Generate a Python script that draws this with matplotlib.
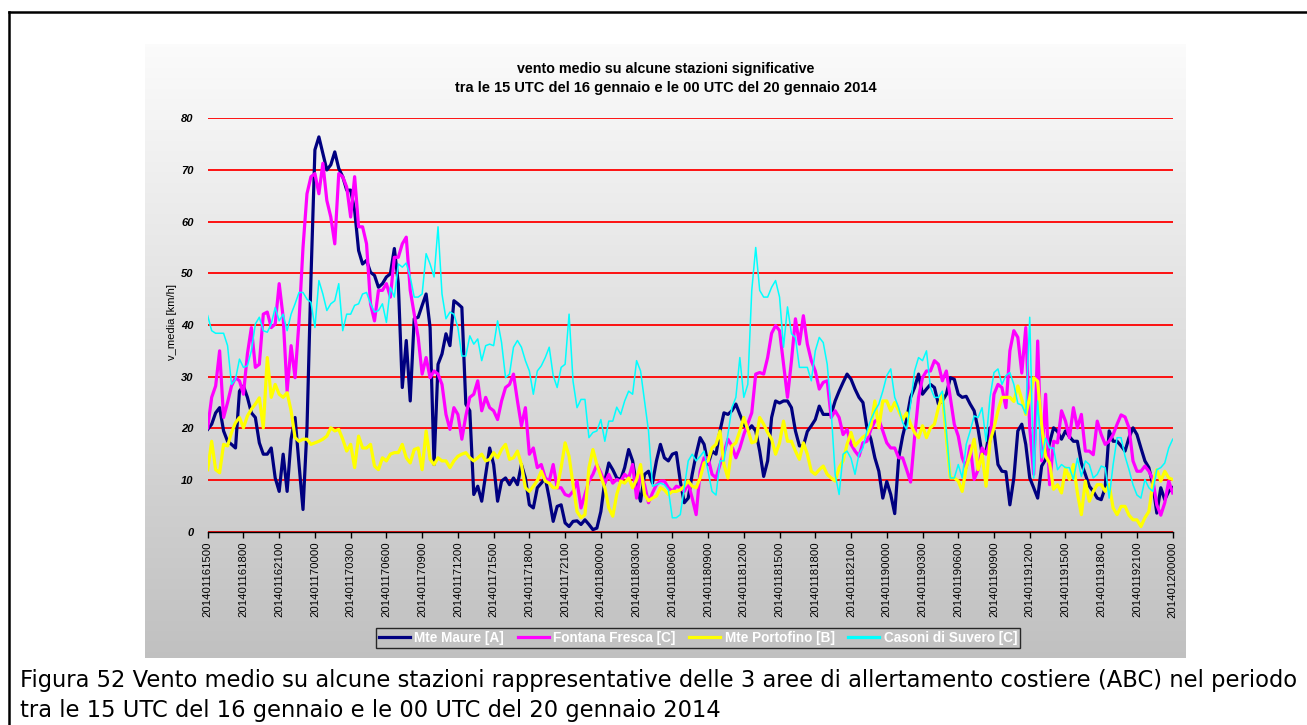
import numpy as np
import matplotlib
matplotlib.use("Agg")
import matplotlib.pyplot as plt
from matplotlib.lines import Line2D

# ---- data: mean wind speed [km/h], one sample every 20 minutes
# from 16/01/2014 15 UTC to 20/01/2014 00 UTC
STEP_H = 1.0 / 3.0

mte_maure = [
    19.8, 20.8, 23.0, 24.0, 19.5, 17.5, 16.9, 16.2, 27.2, 28.2, 26.0, 23.0, 22.1, 17.2, 15.0, 15.0, 16.2, 10.4, 7.8, 15.0,
    7.8, 17.9, 22.1, 13.0, 4.3, 20.0, 49.0, 73.9, 76.4, 73.2, 70.0, 71.0, 73.5, 70.3, 68.7, 66.1, 66.1, 62.2, 54.4, 51.8,
    52.5, 50.2, 49.6, 47.3, 48.0, 49.3, 49.9, 54.8, 48.0, 27.9, 37.0, 25.3, 41.2, 41.5, 43.8, 46.0, 39.5, 13.0, 32.4, 34.4,
    38.3, 36.0, 44.7, 44.1, 43.4, 24.7, 23.4, 7.2, 8.8, 5.9, 11.1, 16.2, 13.0, 5.9, 9.8, 10.4, 9.1, 10.4, 9.1, 13.0,
    10.4, 5.2, 4.6, 8.5, 9.4, 10.4, 6.5, 2.0, 4.9, 5.2, 1.7, 1.0, 2.0, 2.1, 1.4, 2.3, 1.4, 0.4, 0.7, 3.9,
    9.8, 13.3, 12.0, 10.4, 10.1, 12.4, 15.9, 13.7, 8.8, 5.9, 11.1, 11.7, 9.4, 13.7, 16.9, 14.3, 13.7, 15.0, 15.3, 9.8, 5.6,
    6.5, 11.1, 15.0, 18.2, 16.9, 13.0, 15.6, 15.0, 19.5, 23.0, 22.7, 23.4, 24.7, 22.7, 20.8, 19.6, 20.5, 19.5, 15.6, 10.7,
    13.7, 22.1, 25.3, 24.9, 25.3, 25.3, 24.0, 19.5, 16.6, 16.6, 19.4, 20.5, 21.7, 24.3, 22.7, 22.7, 22.7, 25.3, 27.2, 28.9,
    30.5, 29.5, 27.6, 26.0, 25.0, 20.1, 17.9, 14.3, 11.7, 6.5, 9.7, 7.2, 3.5, 14.3, 18.5, 21.7, 26.0, 27.9, 30.5, 26.6,
    27.6, 28.5, 27.9, 24.7, 25.3, 26.6, 29.8, 29.5, 26.6, 26.0, 26.2, 24.7, 23.4, 19.8, 15.0, 15.6, 20.1, 19.5, 13.0, 11.7,
    11.6, 5.2, 10.4, 19.5, 20.8, 16.9, 10.4, 8.5, 6.5, 12.7, 14.0, 17.2, 20.1, 19.4, 17.9, 19.5, 18.4, 17.5, 17.5, 13.3,
    11.1, 8.8, 7.8, 6.5, 6.2, 8.5, 19.5, 17.5, 17.5, 16.6, 15.6, 18.2, 20.1, 18.8, 16.2, 13.7, 12.4, 9.1, 3.6, 8.5,
    6.2, 7.8, 8.5,
]

fontana_fresca = [
    20.1, 26.0, 28.2, 35.0, 22.1, 25.0, 28.2, 29.8, 29.2, 26.6, 34.4, 39.5, 31.8, 32.4, 42.1, 42.5, 39.5, 40.2, 48.0, 41.5,
    27.2, 36.0, 29.8, 40.8, 55.0, 65.4, 68.7, 69.3, 65.4, 71.3, 64.1, 60.9, 55.7, 69.3, 68.7, 66.7, 60.9, 68.7, 59.0, 59.0,
    55.7, 44.1, 40.8, 46.7, 46.7, 48.0, 45.4, 53.1, 53.1, 55.7, 57.0, 46.7, 42.1, 37.6, 30.5, 33.7, 29.8, 31.1, 30.5, 28.5,
    22.7, 19.8, 24.0, 22.7, 17.9, 22.4, 26.0, 26.6, 29.2, 23.4, 26.0, 24.0, 23.4, 21.7, 25.3, 27.9, 28.5, 30.5, 25.3, 20.5,
    24.0, 15.0, 16.2, 12.4, 13.0, 10.4, 9.8, 13.0, 8.5, 8.5, 7.2, 6.9, 7.8, 9.8, 4.6, 7.2, 9.8, 11.1, 13.0, 11.4,
    9.4, 11.1, 9.4, 10.1, 9.8, 11.1, 10.4, 13.0, 6.5, 11.1, 9.1, 5.6, 7.5, 9.1, 9.8, 9.8, 8.5, 7.8, 8.8, 8.5, 7.8,
    9.4, 6.5, 3.3, 11.7, 14.3, 14.3, 11.1, 10.4, 13.0, 15.3, 17.9, 16.6, 14.3, 16.2, 18.8, 20.9, 23.0, 30.5, 30.8, 30.5,
    33.7, 38.4, 39.9, 38.9, 32.4, 26.0, 33.1, 41.2, 36.3, 41.8, 36.3, 33.1, 31.1, 27.6, 28.9, 29.2, 22.1, 23.4, 22.1, 18.8,
    19.8, 16.9, 15.6, 14.6, 17.2, 17.5, 19.8, 21.4, 21.7, 19.5, 17.2, 16.2, 16.2, 14.3, 14.3, 12.0, 9.6, 18.2, 26.0, 29.8,
    31.1, 31.1, 33.1, 32.4, 29.2, 31.1, 26.0, 20.8, 18.5, 14.3, 12.4, 16.6, 10.1, 12.0, 16.2, 15.0, 17.5, 26.6, 28.5, 27.9,
    24.0, 35.0, 38.9, 37.6, 30.7, 39.5, 20.1, 11.1, 36.9, 13.7, 26.6, 9.1, 17.5, 17.2, 23.4, 21.4, 18.2, 24.0, 20.1, 22.7,
    15.6, 15.6, 14.9, 21.4, 18.8, 16.9, 17.5, 18.8, 20.8, 22.6, 22.2, 20.1, 13.7, 11.7, 11.7, 12.7, 11.7, 10.1, 5.2, 3.2,
    5.6, 9.8, 7.5,
]

mte_portofino = [
    12.0, 17.5, 12.0, 11.4, 16.9, 16.6, 19.2, 21.1, 22.1, 20.1, 22.4, 23.7, 24.7, 25.9, 20.1, 33.7, 26.0, 28.5, 26.6, 26.0,
    26.9, 23.4, 18.2, 17.5, 17.9, 17.9, 16.9, 17.2, 17.5, 17.9, 18.5, 20.1, 19.5, 19.8, 17.9, 15.6, 16.9, 12.4, 18.5, 16.2,
    16.2, 16.9, 12.7, 12.0, 14.3, 13.7, 15.0, 15.3, 15.3, 16.9, 14.3, 13.3, 15.9, 16.2, 12.0, 19.5, 14.0, 13.0, 14.3, 13.7,
    13.7, 12.4, 13.7, 14.6, 15.0, 15.3, 14.3, 13.7, 14.3, 15.0, 13.7, 14.0, 15.3, 14.3, 15.9, 16.9, 14.0, 14.3, 15.6, 13.0,
    8.5, 7.8, 8.8, 9.9, 11.7, 9.8, 9.4, 8.5, 8.5, 12.4, 17.2, 14.6, 9.1, 3.9, 2.7, 3.3, 12.4, 15.9, 13.0, 10.7,
    8.5, 4.6, 3.0, 7.2, 9.8, 9.4, 10.4, 8.5, 10.1, 13.0, 7.2, 6.0, 6.5, 6.9, 8.5, 8.1, 7.2, 7.8, 7.8, 8.1, 8.8,
    9.8, 8.8, 8.5, 10.4, 13.3, 13.7, 16.2, 16.9, 19.5, 13.0, 10.4, 16.6, 17.2, 19.5, 22.1, 19.8, 17.2, 17.5, 22.1, 20.8,
    19.2, 17.9, 15.0, 17.2, 21.4, 17.5, 17.5, 15.6, 14.0, 17.2, 15.0, 11.7, 11.1, 12.0, 12.7, 11.1, 10.4, 9.8, 12.4, 13.7,
    16.9, 19.2, 16.6, 17.5, 18.3, 18.8, 20.5, 25.3, 20.1, 25.3, 25.3, 23.4, 25.0, 23.4, 21.7, 23.0, 20.8, 19.2, 18.2, 20.5,
    18.2, 20.1, 20.8, 24.0, 26.6, 18.2, 10.4, 10.4, 9.8, 7.8, 12.4, 15.0, 17.9, 12.0, 15.0, 8.8, 17.5, 20.1, 23.4, 26.0,
    26.0, 26.0, 25.2, 28.2, 25.6, 22.7, 26.0, 29.8, 29.1, 20.5, 14.6, 13.3, 8.2, 9.1, 7.5, 12.4, 10.1, 13.0, 7.5, 3.3,
    9.8, 5.9, 7.8, 9.1, 9.1, 7.8, 9.1, 4.6, 3.3, 4.9, 4.9, 3.2, 2.3, 2.3, 1.0, 2.7, 3.9, 9.4, 12.0, 9.8,
    11.7, 10.4, 10.1,
]

casoni_di_suvero = [
    41.8, 38.9, 38.4, 38.4, 38.4, 36.0, 28.5, 29.5, 33.4, 31.8, 32.1, 35.0, 40.2, 41.5, 38.9, 38.6, 40.2, 43.4, 40.8, 42.1,
    38.9, 42.1, 44.1, 46.3, 46.3, 45.0, 44.4, 39.5, 48.6, 46.0, 42.8, 44.1, 44.7, 48.0, 38.9, 42.1, 42.1, 43.8, 44.1, 46.0,
    46.3, 44.1, 42.5, 42.8, 44.1, 40.5, 47.3, 45.4, 51.8, 51.2, 52.0, 49.3, 45.4, 45.4, 46.0, 53.8, 51.8, 49.3, 59.0, 46.0,
    41.2, 42.5, 42.1, 39.5, 34.0, 34.0, 37.9, 36.3, 37.3, 33.1, 36.0, 36.3, 36.0, 40.8, 36.6, 29.8, 30.5, 35.7, 37.0, 35.7,
    33.1, 31.1, 26.6, 31.1, 32.1, 33.7, 35.7, 30.2, 27.9, 31.8, 32.4, 42.1, 29.1, 24.0, 25.6, 25.6, 18.2, 19.2, 19.5, 21.7,
    17.5, 21.4, 21.4, 24.1, 22.7, 25.3, 27.2, 26.6, 33.1, 31.1, 25.3, 19.5, 8.8, 9.1, 9.4, 9.1, 8.1, 2.7, 2.7, 3.3, 8.5,
    13.7, 15.0, 13.7, 14.6, 15.6, 11.7, 7.8, 7.1, 13.7, 13.7, 18.8, 24.0, 26.0, 33.7, 26.0, 28.5, 46.7, 55.0, 46.7, 45.4,
    45.4, 47.3, 48.6, 45.4, 35.7, 43.5, 38.3, 37.6, 31.8, 31.8, 31.8, 29.2, 35.0, 37.6, 36.6, 32.4, 23.4, 11.1, 7.2, 15.0,
    15.6, 14.2, 11.1, 15.0, 16.2, 19.5, 21.7, 23.4, 24.7, 27.2, 30.2, 31.5, 26.0, 24.0, 21.1, 19.8, 24.7, 31.1, 33.7, 33.1,
    35.0, 27.9, 26.0, 26.0, 27.2, 19.5, 10.4, 10.4, 13.0, 10.4, 16.9, 19.5, 22.4, 22.1, 24.0, 17.5, 26.0, 30.8, 31.5, 28.5,
    30.2, 30.8, 28.5, 24.8, 24.5, 22.8, 41.5, 10.4, 25.3, 14.3, 18.1, 16.2, 16.2, 12.0, 13.0, 12.4, 12.4, 10.1, 14.2, 10.7,
    13.7, 13.0, 10.4, 11.1, 12.7, 12.4, 6.5, 13.0, 18.2, 18.2, 14.6, 12.0, 9.1, 7.1, 6.5, 10.1, 8.5, 7.8, 12.0, 12.4,
    13.3, 16.2, 17.9,
]

series_names = ["Mte Maure [A]", "Fontana Fresca [C]", "Mte Portofino [B]", "Casoni di Suvero [C]"]

tick_labels = [
    "201401161500", "201401161800", "201401162100", "201401170000", "201401170300", "201401170600",
    "201401170900", "201401171200", "201401171500", "201401171800", "201401172100", "201401180000",
    "201401180300", "201401180600", "201401180900", "201401181200", "201401181500", "201401181800",
    "201401182100", "201401190000", "201401190300", "201401190600", "201401190900", "201401191200",
    "201401191500", "201401191800", "201401192100", "201401200000",
]

# ---- figure layout (pixel geometry of a 1307x725 canvas)
W, H = 1307, 725
fig = plt.figure(figsize=(W / 100, H / 100), dpi=100)
fig.patch.set_facecolor("white")


def fx(px):
    return px / W


def fy(py):
    return 1 - py / H


# outer frame lines (top and left)
fig.add_artist(Line2D([fx(9), 1.0], [fy(12), fy(12)], color="black", lw=1.8))
fig.add_artist(Line2D([fx(9), fx(9)], [0.0, fy(12)], color="black", lw=1.8))

# chart panel with vertical grey gradient
p_left, p_right, p_top, p_bot = 145, 1186, 44, 658
bg = fig.add_axes([fx(p_left), fy(p_bot), fx(p_right - p_left), (p_bot - p_top) / H], zorder=0)
grad = np.linspace(0.985, 0.755, 256).reshape(-1, 1)
bg.imshow(np.dstack([grad, grad, grad]), aspect="auto", extent=[0, 1, 0, 1], interpolation="bilinear")
bg.set_axis_off()

# plotting area
a_left, a_right, a_top, a_bot = 207.7, 1172.7, 118.3, 531.7
ax = fig.add_axes([fx(a_left), fy(a_bot), fx(a_right - a_left), (a_bot - a_top) / H], zorder=1)
ax.set_facecolor("none")

n = len(mte_maure)
hours = np.arange(n) * STEP_H

colors = ["#000080", "#ff00ff", "#ffff00", "#00ffff"]
widths = [2.3, 2.3, 2.3, 1.1]
for vals, name, c, lw in zip([mte_maure, fontana_fresca, mte_portofino, casoni_di_suvero],
                             series_names, colors, widths):
    ax.plot(hours, vals, color=c, lw=lw, label=name, solid_joinstyle="round")

ax.set_xlim(0, 81)
ax.set_ylim(0, 80)

ax.set_yticks(np.arange(0, 81, 10))
ax.yaxis.grid(True, color="#ff0000", lw=1.3, zorder=0)
ax.set_axisbelow(True)
ax.tick_params(axis="y", length=0, pad=10)
for lab in ax.get_yticklabels():
    lab.set_fontfamily("Liberation Sans")
    lab.set_fontsize(8)
    lab.set_fontstyle("italic")
    lab.set_fontweight("bold")

ax.set_xticks(np.arange(0, 82, 3))
ax.set_xticklabels(tick_labels, rotation=90, fontsize=8.2, fontfamily="Liberation Sans")
ax.tick_params(axis="x", direction="out", length=4, width=1, color="black", pad=3)

for side in ["left", "right", "top"]:
    ax.spines[side].set_visible(False)
ax.spines["bottom"].set_color("black")
ax.spines["bottom"].set_linewidth(1.0)
ax.spines["bottom"].set_zorder(5)

# titles and axis label
fig.text(fx(666), fy(69), "vento medio su alcune stazioni significative",
         ha="center", va="center", fontsize=10.3, fontweight="bold", fontfamily="Liberation Sans")
fig.text(fx(666), fy(88), "tra le 15 UTC del 16 gennaio e le 00 UTC del 20 gennaio 2014",
         ha="center", va="center", fontsize=10.5, fontweight="bold", fontfamily="Liberation Sans")
fig.text(fx(172), fy(322), "v_media [km/h]", rotation=90, ha="center", va="center",
         fontsize=8, fontfamily="Liberation Sans")

# legend
leg = fig.legend(loc="center", bbox_to_anchor=(fx(698), fy(638)), ncol=4,
                 frameon=True, fancybox=False, handlelength=2.3, handletextpad=0.3,
                 columnspacing=1.0, borderpad=0.2,
                 prop={"family": "Liberation Sans", "weight": "bold", "size": 9.8})
leg.get_frame().set_facecolor("#c3c3c3")
leg.get_frame().set_edgecolor("black")
leg.get_frame().set_linewidth(1.0)
for t in leg.get_texts():
    t.set_color("white")
for h in leg.get_lines():
    h.set_linewidth(2.3)

# caption
fig.text(fx(20), fy(681),
         "Figura 52 Vento medio su alcune stazioni rappresentative delle 3 aree di allertamento costiere (ABC) nel periodo",
         ha="left", va="center", fontsize=16.3, fontfamily="DejaVu Sans")
fig.text(fx(20), fy(710),
         "tra le 15 UTC del 16 gennaio e le 00 UTC del 20 gennaio 2014",
         ha="left", va="center", fontsize=16.3, fontfamily="DejaVu Sans")

fig.savefig("out.png", dpi=100, facecolor="white")
